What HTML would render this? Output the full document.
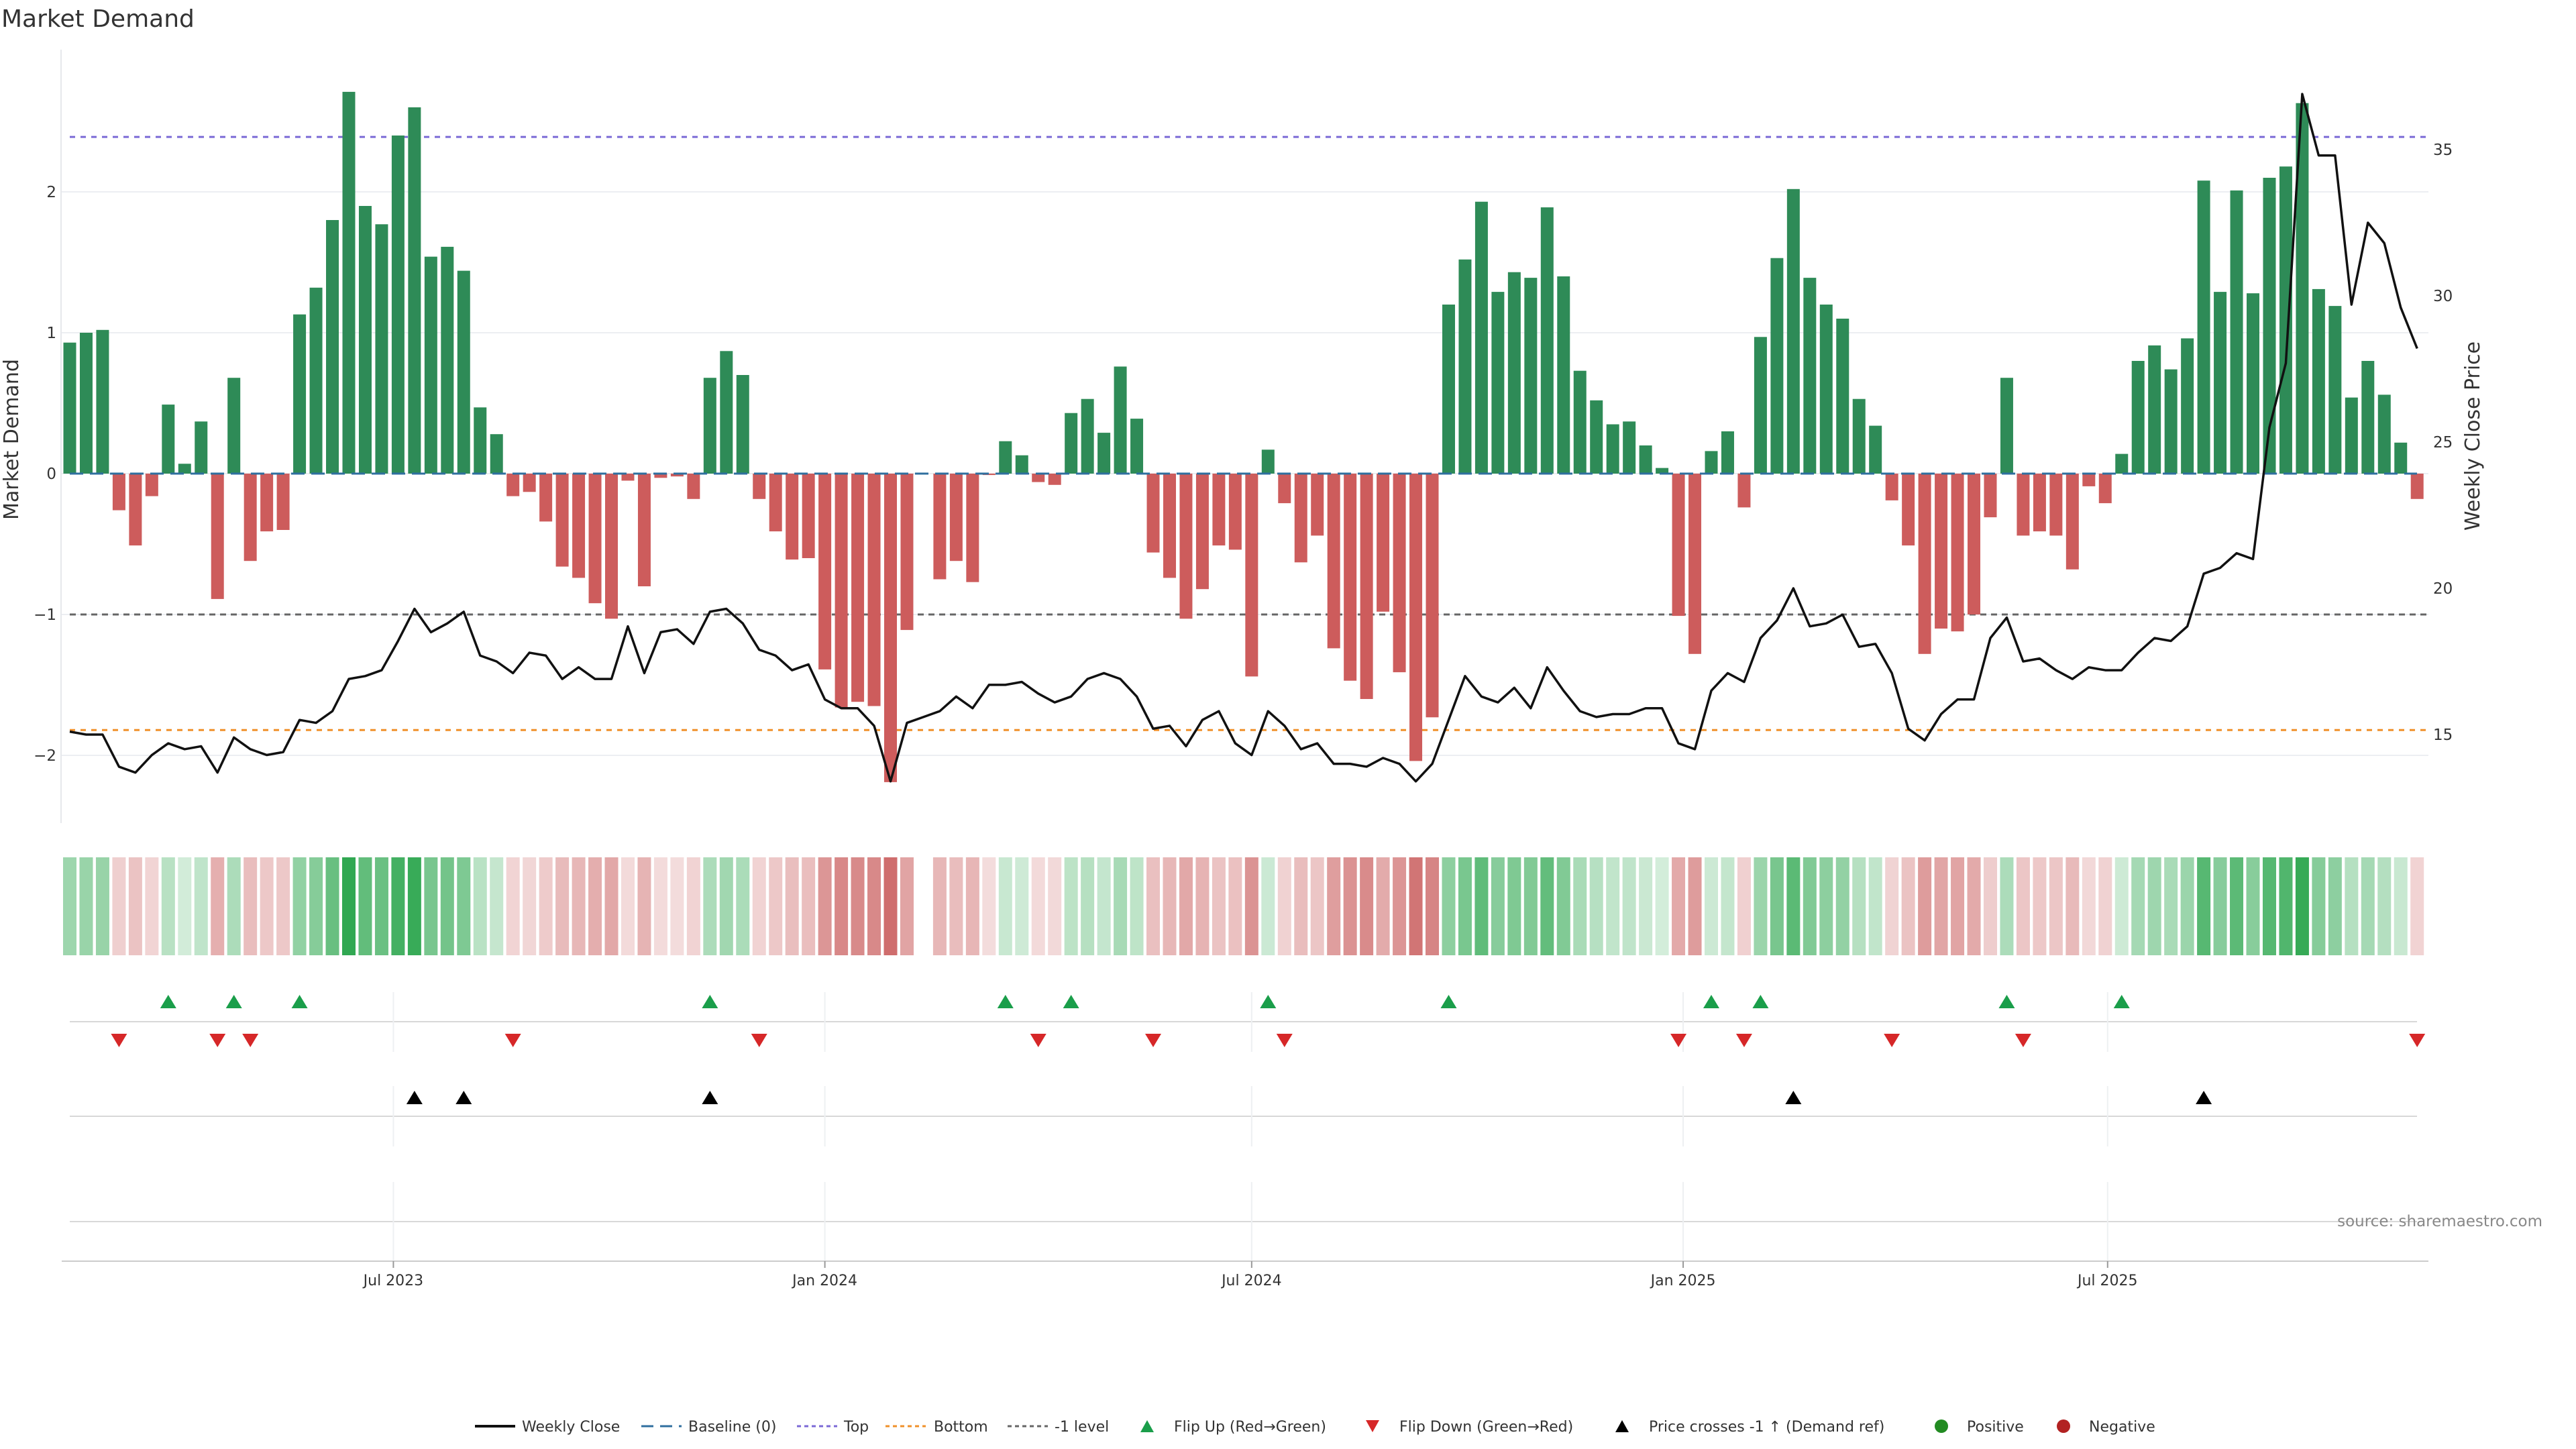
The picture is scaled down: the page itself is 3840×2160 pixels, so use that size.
<!DOCTYPE html>
<html><head><meta charset="utf-8">
<style>
html,body{margin:0;padding:0;background:#fff;}
svg{display:block;font-family:"DejaVu Sans","Liberation Sans",sans-serif;}
</style></head>
<body>
<svg id="chart" width="3840" height="2160" viewBox="0 0 3840 2160" xmlns="http://www.w3.org/2000/svg">
<rect width="3840" height="2160" fill="#fff"/>
<text x="2" y="40" font-size="36" fill="#333">Market Demand</text>
<g id="grid"></g><g id="refs"></g><g id="bars"></g><g id="baseline"></g><g id="price"></g>
<g id="axes"></g><g id="heat"></g><g id="markers"></g><g id="xaxis"></g>
<text transform="translate(27,655) rotate(-90)" text-anchor="middle" font-size="30" fill="#333">Market Demand</text>
<text transform="translate(3696,650) rotate(-90)" text-anchor="middle" font-size="30" fill="#333">Weekly Close Price</text>
<text x="3790" y="1828" text-anchor="end" font-size="23" fill="#888">source: sharemaestro.com</text>
<g id="legend"></g>
</svg>
<script>
const demand = [0.93,1.00,1.02,-0.26,-0.51,-0.16,0.49,0.07,0.37,-0.89,0.68,-0.62,-0.41,-0.40,1.13,1.32,1.80,2.71,1.90,1.77,2.40,2.60,1.54,1.61,1.44,0.47,0.28,-0.16,-0.13,-0.34,-0.66,-0.74,-0.92,-1.03,-0.05,-0.80,-0.03,
-0.02,-0.18,0.68,0.87,0.70,-0.18,-0.41,-0.61,-0.60,-1.39,-1.66,-1.62,-1.65,-2.19,-1.11,null,-0.75,-0.62,-0.77,-0.01,0.23,0.13,-0.06,-0.08,0.43,0.53,0.29,0.76,0.39,-0.56,-0.74,-1.03,-0.82,-0.51,-0.54,-1.44,0.17,
-0.21,-0.63,-0.44,-1.24,-1.47,-1.60,-0.98,-1.41,-2.04,-1.73,1.20,1.52,1.93,1.29,1.43,1.39,1.89,1.40,0.73,0.52,0.35,0.37,0.20,0.04,-1.01,-1.28,0.16,0.30,-0.24,0.97,1.53,2.02,1.39,1.20,1.10,0.53,0.34,
-0.19,-0.51,-1.28,-1.10,-1.12,-1.00,-0.31,0.68,-0.44,-0.41,-0.44,-0.68,-0.09,-0.21,0.14,0.80,0.91,0.74,0.96,2.08,1.29,2.01,1.28,2.10,2.18,2.63,1.31,1.19,0.54,0.80,0.56,0.22,-0.18];
const closes = [15.1,15.0,15.0,13.9,13.7,14.3,14.7,14.5,14.6,13.7,14.9,14.5,14.3,14.4,15.5,15.4,15.8,16.9,17.0,17.2,18.2,19.3,18.5,18.8,19.2,17.7,17.5,17.1,17.8,17.7,16.9,17.3,16.9,16.9,18.7,17.1,18.5,
18.6,18.1,19.2,19.3,18.8,17.9,17.7,17.2,17.4,16.2,15.9,15.9,15.3,13.4,15.4,15.6,15.8,16.3,15.9,16.7,16.7,16.8,16.4,16.1,16.3,16.9,17.1,16.9,16.3,15.2,15.3,14.6,15.5,15.8,14.7,14.3,15.8,
15.3,14.5,14.7,14.0,14.0,13.9,14.2,14.0,13.4,14.0,15.5,17.0,16.3,16.1,16.6,15.9,17.3,16.5,15.8,15.6,15.7,15.7,15.9,15.9,14.7,14.5,16.5,17.1,16.8,18.3,18.9,20.0,18.7,18.8,19.1,18.0,18.1,
17.1,15.2,14.8,15.7,16.2,16.2,18.3,19.0,17.5,17.6,17.2,16.9,17.3,17.2,17.2,17.8,18.3,18.2,18.7,20.5,20.7,21.2,21.0,25.5,27.7,36.9,34.8,34.8,29.7,32.5,31.8,29.6,28.2];
const startDate = "2023-02-13";
const leftTicks = [-2,-1,0,1,2];
const rightTicks = [15,20,25,30,35];
const xTickDates = ["2023-07-01","2024-01-01","2024-07-01","2025-01-01","2025-07-01"];
const xTickLabels = ["Jul 2023","Jan 2024","Jul 2024","Jan 2025","Jul 2025"];
const topLevel = 2.39, bottomLevel = -1.82, minusOneLevel = -1;
const priceCrossLevel = 19.15;

const NS="http://www.w3.org/2000/svg";
const X0=104, STEP=24.47;
const xi = i => X0 + i*STEP;
const xDate = d => X0 + ((new Date(d+"T00:00:00Z") - new Date(startDate+"T00:00:00Z"))/86400000/7)*STEP;
const yL = v => 706 - v*210;
const yP = p => 1095 - (p-15)*43.6;
function mk(parent,tag,attrs){const e=document.createElementNS(NS,tag);for(const k in attrs)e.setAttribute(k,attrs[k]);document.getElementById(parent).appendChild(e);return e;}

leftTicks.forEach(t=>{
  const g=mk('grid','line',{x1:91,x2:3620,y1:yL(t),y2:yL(t),stroke:'#eceef2','stroke-width':2});
  
  
  const tx=mk('axes','text',{x:84,y:yL(t)+8,'text-anchor':'end','font-size':23,fill:'#333'});
  tx.textContent=(t<0?'\u2212':'')+Math.abs(t);
  
  
});
rightTicks.forEach(t=>{
  const tx=mk('axes','text',{x:3627,y:yP(t)+8,'font-size':23,fill:'#333'});
  tx.textContent=t;
  
  
});
const ax=mk('axes','line',{x1:91,x2:91,y1:74,y2:1227,stroke:'#e6e8ec','stroke-width':2});



[[topLevel,'#7b6ad6','8,8','top-line'],[bottomLevel,'#f0902a','8,8','bottom-line'],[minusOneLevel,'#666','9,7','minus-one-level-line']].forEach(r=>{
  const l=mk('refs','line',{x1:104,x2:3620,y1:yL(r[0]),y2:yL(r[0]),stroke:r[1],'stroke-width':3,'stroke-dasharray':r[2]});
  
  
});

demand.forEach((v,i)=>{
  if(v===null)return;
  const y=Math.min(yL(0),yL(v)),h=Math.abs(yL(v)-yL(0));
  const b=mk('bars','rect',{x:xi(i)-9.5,y:y,width:19,height:Math.max(h,0.5),fill:v>=0?'#2e8b57':'#cd5c5c'});
  
  
});
const bl=mk('baseline','line',{x1:104,x2:3603,y1:yL(0),y2:yL(0),stroke:'#2f6f9f','stroke-width':3,'stroke-dasharray':'20,10'});



const pl=mk('price','polyline',{points:closes.map((p,i)=>xi(i)+','+yP(p)).join(' '),fill:'none',stroke:'#111','stroke-width':3.5,'stroke-linejoin':'round'});



demand.forEach((v,i)=>{
  if(v===null)return;
  const t=0.2+0.8*Math.min(1,Math.abs(v)/2.71);
  const base=v>=0?[49,168,82]:[198,83,83];
  const c=base.map(b=>Math.round(255-(255-b)*t));
  const r=mk('heat','rect',{x:xi(i)-10,y:1278,width:20,height:146,fill:`rgb(${c.join(',')})`});
  
  
});

[[1523,1479,1568],[1664,1619,1709],[1821,1762,1880]].forEach(p=>{
  const l=mk('markers','line',{x1:104,x2:3603,y1:p[0],y2:p[0],stroke:'#d8d8d8','stroke-width':2});
  
  
  xTickDates.forEach(d=>{
    const g=mk('markers','line',{x1:xDate(d),x2:xDate(d),y1:p[1],y2:p[2],stroke:'#eef0f2','stroke-width':2});
    
    
  });
});
function tri(x,y,up,color,name){
  const pts=up?`${x-12},${y+10} ${x+12},${y+10} ${x},${y-10}`:`${x-12},${y-10} ${x+12},${y-10} ${x},${y+10}`;
  const t=mk('markers','polygon',{points:pts,fill:color});
  
  
}
for(let i=1;i<demand.length;i++){
  const v=demand[i],p=demand[i-1];
  if(v===null||p===null)continue;
  if(v>0&&p<=0)tri(xi(i),1493,true,'#1a9e4a','flip-up-marker');
  if(v<0&&p>0)tri(xi(i),1551,false,'#d62728','flip-down-marker');
}
for(let i=1;i<closes.length;i++){
  if(closes[i]>=priceCrossLevel&&closes[i-1]<priceCrossLevel)tri(xi(i),1636,true,'#000','price-cross-marker');
}

const xl=mk('xaxis','line',{x1:92,x2:3620,y1:1880,y2:1880,stroke:'#ccc','stroke-width':2});


xTickDates.forEach((d,k)=>{
  const x=xDate(d);
  const tk=mk('xaxis','line',{x1:x,x2:x,y1:1880,y2:1890,stroke:'#999','stroke-width':2});
  
  
  const t=mk('xaxis','text',{x:x,y:1916,'text-anchor':'middle','font-size':22,fill:'#333'});
  t.textContent=xTickLabels[k];
  
  
});

const LY=2126;
function ltext(x,s){const t=mk('legend','text',{x:x,y:LY+8,'font-size':22,fill:'#333'});t.textContent=s;}
function lline(x,color,dash,w){const l=mk('legend','line',{x1:x,x2:x+60,y1:LY,y2:LY,stroke:color,'stroke-width':w,'stroke-dasharray':dash});}
lline(708,'#111','none',4);ltext(778,'Weekly Close');
lline(956,'#2f6f9f','18,10',3);ltext(1026,'Baseline (0)');
lline(1188,'#7b6ad6','6,5',3);ltext(1258,'Top');
lline(1320,'#f0902a','6,5',3);ltext(1392,'Bottom');
lline(1502,'#666','6,5',3);ltext(1572,'-1 level');
function ltri(x,up,color){const pts=up?`${x-10},${LY+9} ${x+10},${LY+9} ${x},${LY-9}`:`${x-10},${LY-9} ${x+10},${LY-9} ${x},${LY+9}`;const t=mk('legend','polygon',{points:pts,fill:color});}
ltri(1710,true,'#1a9e4a');ltext(1750,'Flip Up (Red\u2192Green)');
ltri(2046,false,'#d62728');ltext(2086,'Flip Down (Green\u2192Red)');
ltri(2418,true,'#000');ltext(2458,'Price crosses -1 \u2191 (Demand ref)');
function ldot(x,color){const c=mk('legend','circle',{cx:x,cy:LY,r:10,fill:color});}
ldot(2894,'#228b22');ltext(2932,'Positive');
ldot(3076,'#b22222');ltext(3114,'Negative');
</script>
</body></html>
